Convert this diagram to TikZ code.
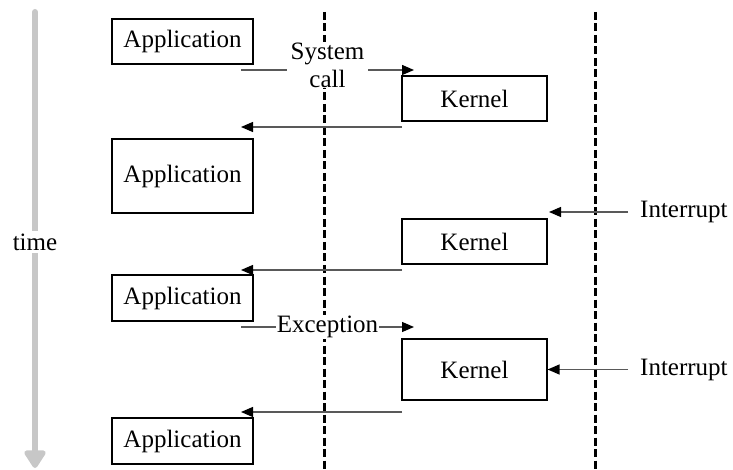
\documentclass[tikz,border=0pt]{standalone}
\usepackage{fontspec}
\setmainfont{Liberation Serif}
\newfontfamily\diagfont{Liberation Serif}
\usetikzlibrary{arrows.meta}
\begin{document}
\begin{tikzpicture}[x=1pt,y=-1pt,
  every node/.style={font=\diagfont\fontsize{25}{28}\selectfont},
  box/.style={draw=black,line width=1.2pt,rectangle,inner sep=0pt},
  appbox/.style={box,minimum width=141pt},
  kbox/.style={box,minimum width=145pt},
  msg/.style={draw=black!65,line width=1.3pt,-{Triangle[length=12pt,width=10pt,color=black]}},
  lane/.style={line width=3pt,dash pattern=on 8pt off 3.5pt},
  lbl/.style={fill=white,inner sep=1pt}]
\useasboundingbox (0,0) rectangle (733,470);

% time axis
\coordinate (t0) at (35,12);
\coordinate (t1) at (35,468);
\draw[line width=6pt,black!22,line cap=round,-{Triangle[length=20pt,width=24pt,round=false]}] (t0) -- (t1);
\node[fill=white,inner sep=3pt,inner xsep=0pt] (time) at (35,242) {time};

% privilege boundaries
\coordinate (b1top) at (324,12);
\coordinate (b1bot) at (324,470);
\coordinate (b2top) at (595,12);
\coordinate (b2bot) at (595,470);
\draw[lane] (b1top) -- (b1bot);
\draw[lane] (b2top) -- (b2bot);

% application and kernel phases
\node[appbox,minimum height=45pt,fill=white] (app1) at (182.5,41.5) {Application};
\node[appbox,minimum height=74pt] (app2) at (182.5,176) {Application};
\node[appbox,minimum height=46pt] (app3) at (182.5,298) {Application};
\node[appbox,minimum height=46pt] (app4) at (182.5,441) {Application};
\node[kbox,minimum height=45pt,fill=white] (k1) at (474.5,98.5) {Kernel};
\node[kbox,minimum height=45pt,fill=white] (k2) at (474.5,241.5) {Kernel};
\node[kbox,minimum height=61pt,fill=white] (k3) at (474.5,369.5) {Kernel};

% system call
\coordinate (sc0) at (241,70);
\coordinate (sc1) at (414,70);
\draw[msg] (sc0) -- node[lbl,align=center,inner xsep=4pt,yshift=5pt] (sclbl) {System\\call} (sc1);

% returns to the application
\coordinate (r1a) at (402,127);
\coordinate (r1b) at (241,127);
\draw[msg] (r1a) -- (r1b);
\coordinate (r2a) at (402,270);
\coordinate (r2b) at (241,270);
\draw[msg] (r2a) -- (r2b);
\coordinate (r3a) at (402,412);
\coordinate (r3b) at (241,412);
\draw[msg] (r3a) -- (r3b);

% exception
\coordinate (ex0) at (241,327);
\coordinate (ex1) at (414,327);
\draw[msg] (ex0) -- node[lbl] (exlbl) {Exception} (ex1);

% interrupts
\node[anchor=west,inner sep=0pt] (int1) at (640,212) {Interrupt};
\coordinate (i1) at (549,212);
\draw[msg,shorten <=12pt] (int1.west) -- (i1);
\node[anchor=west,inner sep=0pt] (int2) at (640,369.5) {Interrupt};
\draw[msg,shorten <=12pt] (int2.west) -- (k3.east);
\end{tikzpicture}
\end{document}
